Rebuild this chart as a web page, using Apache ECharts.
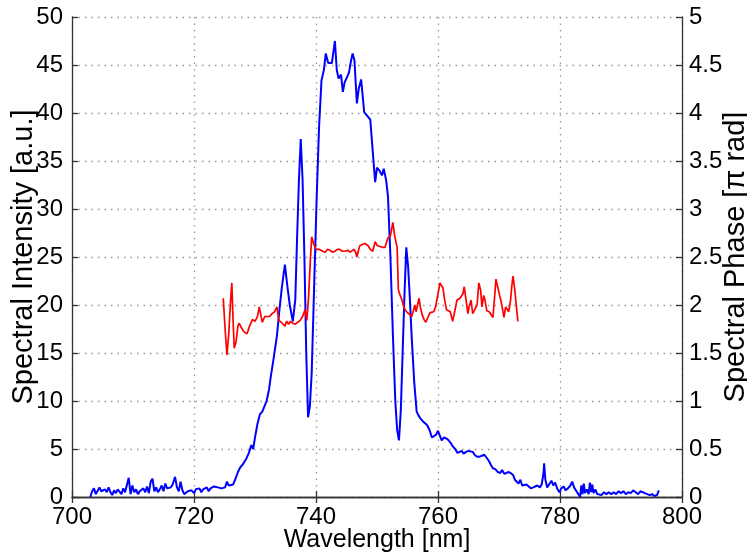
<!DOCTYPE html>
<html>
<head>
<meta charset="utf-8">
<script src="https://cdn.jsdelivr.net/npm/echarts@6/dist/echarts.min.js"></script>
<style>
  html, body { margin: 0; padding: 0; background: #fff; }
  #chart { width: 747px; height: 554px; }
</style>
</head>
<body>
<div id="chart"></div>
<script>
// spectral intensity (blue, left axis)
const intensityWavelength = [
  703.0, 703.3, 703.6, 703.9, 704.2, 704.5, 704.8, 705.1, 705.4, 705.7, 706.0, 706.3, 706.6, 706.9, 707.2, 707.5,
  707.8, 708.1, 708.4, 708.7, 709.0, 709.3, 709.6, 709.9, 710.2, 710.5, 710.8, 711.1, 711.4, 711.7, 712.0, 712.3,
  712.6, 712.9, 713.2, 713.5, 713.8, 714.1, 714.4, 714.7, 715.0, 715.3, 715.6, 715.9, 716.2, 716.5, 716.9, 717.2,
  717.5, 717.8, 718.1, 718.4, 718.7, 719.0, 719.3, 719.6, 720.0, 720.3, 720.6, 720.9, 721.2, 721.5, 721.8, 722.1,
  722.4, 722.7, 723.0, 723.3, 723.6, 723.9, 724.2, 724.5, 724.8, 725.1, 725.4, 725.7, 726.0, 726.4, 726.8, 727.2,
  727.6, 728.0, 728.5, 729.0, 729.4, 729.7, 730.0, 730.4, 730.8, 731.2, 731.5, 731.9, 732.3, 732.6, 733.0, 733.3,
  733.6, 734.0, 734.4, 734.9, 735.3, 735.7, 736.2, 736.6, 736.9, 737.2, 737.5, 737.8, 738.1, 738.4, 738.7, 739.0,
  739.3, 739.7, 740.1, 740.5, 740.9, 741.3, 741.6, 742.0, 742.6, 743.1, 743.4, 743.7, 744.1, 744.4, 744.7, 745.0,
  745.4, 745.7, 746.0, 746.3, 746.7, 747.0, 747.4, 747.9, 748.4, 748.9, 749.3, 749.7, 750.0, 750.4, 750.8, 751.1,
  751.5, 751.8, 752.2, 752.6, 753.0, 753.3, 753.6, 753.9, 754.2, 754.5, 754.8, 755.1, 755.4, 755.7, 756.1, 756.5,
  756.8, 757.1, 757.5, 757.8, 758.2, 758.6, 759.0, 759.3, 759.7, 760.0, 760.3, 760.6, 761.0, 761.3, 761.6, 762.0,
  762.4, 762.8, 763.2, 763.5, 763.9, 764.2, 764.6, 765.0, 765.3, 765.7, 766.0, 766.4, 766.8, 767.2, 767.6, 767.9,
  768.3, 768.7, 769.0, 769.4, 769.8, 770.2, 770.5, 770.9, 771.2, 771.5, 771.9, 772.3, 772.6, 772.9, 773.2, 773.5,
  773.8, 774.1, 774.5, 774.8, 775.2, 775.6, 775.9, 776.3, 776.7, 777.0, 777.3, 777.4, 777.6, 777.9, 778.2, 778.6,
  778.9, 779.2, 779.6, 779.9, 780.2, 780.6, 780.9, 781.3, 781.7, 782.0, 782.3, 782.7, 783.0, 783.3, 783.5, 783.7,
  783.9, 784.1, 784.4, 784.7, 784.9, 785.1, 785.3, 785.5, 785.8, 786.1, 786.4, 786.8, 787.2, 787.6, 788.0, 788.4,
  788.8, 789.2, 789.6, 790.0, 790.4, 790.8, 791.2, 791.6, 792.0, 792.4, 792.8, 793.2, 793.5, 793.9, 794.3, 794.7,
  795.1, 795.5, 795.9, 796.2
];
const intensity = [
  0.0, 0.6, 0.9, 0.3, 0.5, 1.0, 0.6, 0.4, 0.8, 0.5, 1.0, 0.5, 0.2, 0.7, 0.4, 0.8,
  0.6, 0.3, 0.9, 0.5, 0.4, 2.0, 0.3, 1.2, 0.5, 0.8, 0.3, 0.6, 0.4, 0.9, 0.5, 1.1,
  0.4, 1.6, 1.9, 0.6, 1.0, 0.5, 0.8, 1.2, 0.6, 1.4, 0.9, 0.7, 1.0, 1.3, 2.1, 1.0,
  0.6, 1.6, 0.7, 0.3, 0.5, 0.6, 0.4, 0.7, 0.4, 0.8, 0.6, 0.9, 0.5, 0.8, 0.7, 1.0,
  0.6, 0.9, 0.8, 1.1, 0.9, 1.0, 1.2, 0.9, 1.1, 1.0, 1.6, 1.2, 1.1, 1.3, 1.9, 2.6,
  3.1, 3.4, 3.9, 4.6, 5.4, 5.0, 6.2, 7.6, 8.6, 8.9, 8.8, 10.0, 11.2, 12.6, 14.2, 15.5,
  16.8, 19.5, 21.8, 24.2, 22.0, 20.0, 18.3, 20.5, 27.0, 33.0, 37.3, 33.0, 25.0, 15.0, 8.3, 9.5,
  13.0, 22.0, 31.0, 38.5, 43.4, 44.5, 46.2, 45.2, 45.2, 47.5, 44.5, 43.6, 44.0, 42.2, 43.2, 43.6,
  44.2, 45.3, 46.2, 45.5, 41.0, 42.5, 43.5, 40.1, 39.7, 39.3, 36.0, 32.8, 34.3, 34.0, 33.5, 34.2,
  33.0, 31.3, 25.0, 17.0, 10.0, 7.0, 5.9, 9.0, 15.0, 21.0, 26.0, 24.0, 20.5, 16.5, 12.0, 8.9,
  8.5, 8.2, 7.9, 8.0, 7.5, 7.0, 6.2, 6.1, 6.5, 6.9, 6.4, 5.9, 6.2, 6.3, 6.0, 5.7,
  5.3, 5.0, 4.6, 4.5, 4.8, 4.5, 4.7, 4.8, 4.7, 4.7, 4.4, 4.2, 4.2, 4.3, 4.4, 4.3,
  3.8, 3.3, 3.0, 2.9, 2.6, 2.5, 2.8, 2.4, 2.2, 2.6, 2.5, 2.3, 1.8, 1.6, 1.4, 1.8,
  1.2, 1.0, 1.3, 1.1, 0.9, 1.0, 0.8, 1.2, 1.0, 1.3, 2.5, 3.5, 1.8, 1.0, 1.3, 1.7,
  1.2, 1.5, 0.8, 0.5, 0.9, 1.1, 0.7, 0.9, 1.2, 1.6, 1.0, 0.6, 0.3, 0.0, 1.2, 0.3,
  1.4, 0.4, 0.8, 0.3, 1.5, 0.5, 1.3, 0.4, 0.8, 0.3, 0.4, 0.2, 0.5, 0.3, 0.5, 0.3,
  0.5, 0.3, 0.6, 0.4, 0.6, 0.3, 0.5, 0.4, 0.7, 0.5, 0.3, 0.6, 0.8, 0.4, 0.3, 0.2,
  0.3, 0.1, 0.2, 0.7
];

// spectral phase (red, right axis)
const phaseWavelength = [
  724.8, 725.1, 725.4, 725.7, 726.0, 726.2, 726.4, 726.6, 726.9, 727.2, 727.4, 727.8, 728.2, 728.7, 729.1, 729.6,
  730.0, 730.4, 730.7, 731.0, 731.2, 731.6, 731.9, 732.4, 732.8, 733.2, 733.6, 733.9, 734.3, 734.6, 734.9, 735.2,
  735.5, 735.8, 736.2, 736.6, 737.0, 737.4, 737.8, 738.2, 738.5, 738.8, 739.1, 739.3, 739.6, 740.0, 740.2, 740.5,
  740.8, 741.1, 741.5, 741.9, 742.3, 742.7, 743.1, 743.5, 743.9, 744.3, 744.8, 745.2, 745.6, 745.9, 746.2, 746.5,
  746.7, 747.0, 747.2, 747.6, 748.0, 748.5, 748.9, 749.3, 749.7, 750.0, 750.2, 750.5, 750.9, 751.3, 751.8, 752.2,
  752.4, 752.6, 752.9, 753.3, 753.5, 753.8, 754.1, 754.4, 754.6, 755.0, 755.3, 755.7, 756.0, 756.2, 756.4, 756.6,
  756.9, 757.1, 757.4, 757.7, 758.0, 758.4, 758.7, 759.0, 759.3, 759.6, 759.8, 760.1, 760.3, 760.6, 760.8, 761.1,
  761.4, 761.7, 762.0, 762.2, 762.4, 762.8, 763.1, 763.3, 763.6, 763.9, 764.1, 764.3, 764.6, 764.9, 765.1, 765.4,
  765.7, 766.0, 766.4, 766.7, 767.0, 767.2, 767.5, 767.7, 768.0, 768.4, 768.7, 769.0, 769.3, 769.5, 769.8, 770.1,
  770.3, 770.6, 770.8, 771.1, 771.3, 771.6, 771.9, 772.1, 772.3, 772.6, 772.9, 773.1
];
const phase = [
  2.07, 1.75, 1.48, 1.70, 2.05, 2.23, 1.85, 1.55, 1.62, 1.78, 1.81, 1.76, 1.72, 1.70, 1.78, 1.85,
  1.83, 1.88, 1.98, 1.88, 1.82, 1.88, 1.90, 1.88, 1.91, 1.93, 1.98, 1.84, 1.82, 1.80, 1.78, 1.83,
  1.80, 1.83, 1.81, 1.80, 1.82, 1.84, 1.88, 1.95, 1.84, 2.10, 2.50, 2.71, 2.64, 2.58, 2.60, 2.58,
  2.60, 2.56, 2.55, 2.58, 2.57, 2.55, 2.56, 2.58, 2.58, 2.56, 2.56, 2.57, 2.55, 2.56, 2.58, 2.55,
  2.50, 2.58, 2.62, 2.63, 2.64, 2.62, 2.58, 2.56, 2.66, 2.62, 2.60, 2.61, 2.60, 2.60, 2.70, 2.72,
  2.73, 2.86, 2.72, 2.60, 2.16, 2.10, 2.05, 1.98, 1.95, 1.92, 1.90, 1.88, 1.95, 2.00, 1.93, 1.95,
  2.07, 1.98, 1.90, 1.85, 1.82, 1.88, 1.92, 1.93, 1.93, 1.98, 2.00, 2.15, 2.23, 2.22, 2.18, 2.05,
  1.95, 1.96, 1.93, 1.95, 1.83, 1.95, 2.05, 2.07, 2.07, 2.08, 2.12, 2.19, 2.05, 1.91, 1.98, 2.05,
  1.91, 1.95, 2.00, 2.23, 2.15, 1.98, 2.10, 2.05, 1.94, 1.93, 1.93, 1.87, 2.10, 2.27, 2.25, 2.10,
  2.05, 1.95, 1.87, 1.98, 2.00, 1.93, 2.05, 2.20, 2.30, 2.15, 1.95, 1.83
];

const intensityTicks = [0, 50, 5];
const phaseTicks = [0, 5, 0.5];

const font = "'Liberation Sans', Arial, Helvetica, sans-serif";
const frame = { color: '#333', width: 1.3 };
const dotted = { type: [1.5, 5], color: '#999', width: 1.3 };

const chart = echarts.init(document.getElementById('chart'), null, { renderer: 'canvas' });

function zip(xs, ys) {
  return xs.map((x, i) => [x, ys[i]]);
}

const option = {
  animation: false,
  backgroundColor: '#fff',
  grid: { left: 72, right: 65, top: 17, bottom: 57, containLabel: false, outerBoundsMode: 'none' },
  xAxis: [
    {
      type: 'value',
      min: 700, max: 800, interval: 20,
      position: 'bottom',
      name: 'Wavelength [nm]',
      nameLocation: 'middle',
      nameGap: 31,
      nameMoveOverlap: false,
      nameTextStyle: { fontSize: 25, fontFamily: font, color: '#000' },
      axisLine: { lineStyle: frame },
      axisTick: { inside: true, length: 6, lineStyle: frame },
      axisLabel: { fontSize: 24, fontFamily: font, color: '#000', margin: 8 },
      splitLine: { show: true, lineStyle: dotted }
    },
    {
      type: 'value',
      min: 700, max: 800, interval: 20,
      position: 'top',
      axisLine: { lineStyle: frame },
      axisTick: { inside: true, length: 6, lineStyle: frame },
      axisLabel: { show: false },
      splitLine: { show: false }
    }
  ],
  yAxis: [
    {
      type: 'value',
      min: intensityTicks[0], max: intensityTicks[1], interval: intensityTicks[2],
      position: 'left',
      name: 'Spectral Intensity [a.u.]',
      nameLocation: 'middle',
      nameRotate: 90,
      nameGap: 34,
      nameMoveOverlap: false,
      nameTextStyle: { fontSize: 29, fontFamily: font, color: '#000' },
      axisLine: { show: true, lineStyle: frame },
      axisTick: { show: true, inside: true, length: 6, lineStyle: frame },
      axisLabel: { fontSize: 24, fontFamily: font, color: '#000', margin: 9 },
      splitLine: { show: true, lineStyle: dotted }
    },
    {
      type: 'value',
      min: phaseTicks[0], max: phaseTicks[1], interval: phaseTicks[2],
      position: 'right',
      name: 'Spectral Phase [\u03c0 rad]',
      nameLocation: 'middle',
      nameRotate: 90,
      nameGap: 39,
      nameMoveOverlap: false,
      nameTextStyle: { fontSize: 29, fontFamily: font, color: '#000' },
      axisLine: { show: true, lineStyle: frame },
      axisTick: { show: true, inside: true, length: 6, lineStyle: frame },
      axisLabel: { fontSize: 24, fontFamily: font, color: '#000', margin: 7 },
      splitLine: { show: false }
    }
  ],
  series: [
    {
      name: 'Spectral Intensity',
      type: 'line',
      xAxisIndex: 0,
      yAxisIndex: 0,
      showSymbol: false,
      data: zip(intensityWavelength, intensity),
      lineStyle: { color: '#0000ff', width: 2 },
      itemStyle: { color: '#0000ff' },
      z: 3
    },
    {
      name: 'Spectral Phase',
      type: 'line',
      xAxisIndex: 0,
      yAxisIndex: 1,
      showSymbol: false,
      data: zip(phaseWavelength, phase),
      lineStyle: { color: '#ff0000', width: 1.7 },
      itemStyle: { color: '#ff0000' },
      z: 4
    }
  ]
};

chart.setOption(option);
</script>
</body>
</html>
